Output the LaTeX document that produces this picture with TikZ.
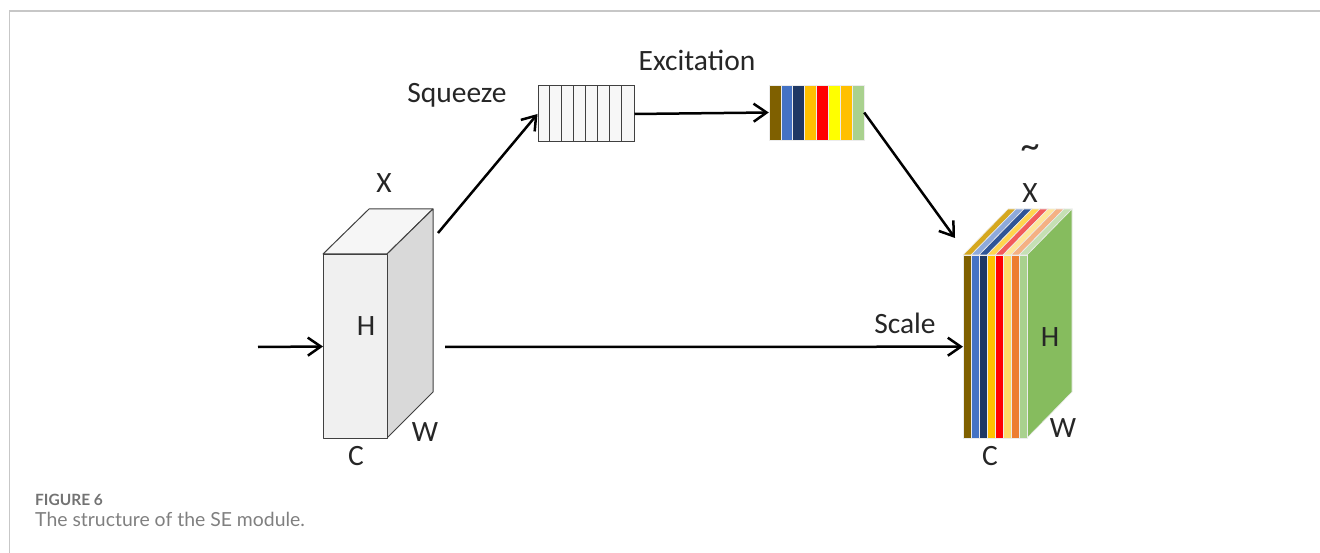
\documentclass[tikz,border=0pt]{standalone}
\usepackage{fontspec}
\setmainfont{Carlito}
\newfontfamily\capfont{Lato}
\usetikzlibrary{arrows.meta,calc}

\definecolor{cBrown}{HTML}{7F6000}
\definecolor{cBlue}{HTML}{4472C4}
\definecolor{cNavy}{HTML}{1F3864}
\definecolor{cOrange}{HTML}{FFC000}
\definecolor{cRed}{HTML}{FF0000}
\definecolor{cYellow}{HTML}{FFFF00}
\definecolor{cLYellow}{HTML}{FFD966}
\definecolor{cDOrange}{HTML}{ED7D31}
\definecolor{cLGreen}{HTML}{A9D18E}
\definecolor{cGreen}{HTML}{86BC5E}
\definecolor{tGold}{HTML}{D6A81F}
\definecolor{tLBlue}{HTML}{8EAADB}
\definecolor{tBlue}{HTML}{2F5597}
\definecolor{tYellow}{HTML}{FFD54F}
\definecolor{tRed}{HTML}{F25B5B}
\definecolor{tLYellow}{HTML}{FFE699}
\definecolor{tPeach}{HTML}{F4B183}
\definecolor{tLGreen}{HTML}{C5E0B4}

\begin{document}
\begin{tikzpicture}[x=1pt,y=-1pt,
  conn/.style={line width=2.5pt, black,
    -{Straight Barb[length=13pt,width=18pt,line width=2.5pt]}},
  lbl/.style={font=\fontsize{29.5}{34}\selectfont, text=black!85, inner sep=0},
  face/.style={draw=black!75, line width=1pt, line join=round},
  stripe/.style={draw=white!85!gray, line width=0.6pt}]

\useasboundingbox (0,0) rectangle (1320,553);
\draw[black!22, line width=1.5pt] (1320,11) -- (9.5,11) -- (9.5,553);

% input tensor X
\filldraw[face, fill=gray!7] (323,254) -- (369,209) -- (433,209) -- (387,254) -- cycle;
\filldraw[face, fill=gray!30] (387,254) -- (433,209) -- (433,392) -- (387,438) -- cycle;
\node[face, fill=gray!12, minimum width=64pt, minimum height=184pt, inner sep=0,
      anchor=north west] (xin) at (323,254) {};
\node[lbl] (lxin) at (384,183) {X};
\node[lbl] (lhin) at (366,326) {H};
\node[lbl] (lwin) at (425,432) {W};
\node[lbl] (lcin) at (356,456) {C};

% squeeze vector
\node[draw=black!75, line width=1pt, fill=gray!6, minimum width=96pt,
      minimum height=56pt, inner sep=0] (sq) at (586,114) {};
\foreach \k in {1,...,7}
  \draw[black!75, line width=1pt] ($(sq.north west)+(12*\k,0)$) -- ($(sq.south west)+(12*\k,0)$);
\node[lbl] (lsq) at (457,95) {Squeeze};

% excitation weights
\foreach \c [count=\k from 0] in {cBrown,cBlue,cNavy,cOrange,cRed,cYellow,cOrange,cLGreen}
  \fill[stripe, fill=\c] (769+11.875*\k,85) rectangle (769+11.875*\k+11.875,140);
\node[minimum width=95pt, minimum height=55pt, inner sep=0] (ex) at (816.5,112.5) {};
\node[lbl] (lex) at (697,60) {Excitation};

% rescaled tensor
\foreach \c [count=\k from 0] in {tGold,tLBlue,tBlue,tYellow,tRed,tLYellow,tPeach,tLGreen}
  \fill[stripe, fill=\c] (963+8*\k,255) -- (1008+8*\k,209) -- (1016+8*\k,209) -- (971+8*\k,255) -- cycle;
\fill[stripe, fill=cGreen] (1027,255) -- (1072,209) -- (1072,392) -- (1027,438) -- cycle;
\foreach \c [count=\k from 0] in {cBrown,cBlue,cNavy,cOrange,cRed,cLYellow,cDOrange,cLGreen}
  \fill[stripe, fill=\c] (963+8*\k,255) rectangle (971+8*\k,438);
\node[minimum width=64pt, minimum height=183pt, inner sep=0, anchor=north west] (xout) at (963,255) {};
\node[lbl, font=\fontsize{38}{40}\selectfont] (ltil) at (1030,152) {\textasciitilde};
\node[lbl] (lxout) at (1030,193) {X};
\node[lbl] (lhout) at (1050,337) {H};
\node[lbl] (lwout) at (1063,428) {W};
\node[lbl] (lcout) at (990,456) {C};
\node[lbl] (lsc) at (905,323) {Scale};

% connectors
\coordinate (inflow) at (258,347);
\coordinate (sqfrom) at (438,233);
\coordinate (scfrom) at (445,347);
\coordinate (exto) at (955,238);
\draw[conn] (inflow) -- (xin.west);
\draw[conn] (sqfrom) -- (sq.west);
\draw[conn] (sq.east) -- (ex.west);
\draw[conn] (ex.east) -- (exto);
\draw[conn] (scfrom) -- (xout.west);

% caption
\node[anchor=west, inner sep=0, text=black!55, font=\capfont\bfseries\fontsize{15.5}{18}\selectfont] (fig) at (35,500) {FIGURE 6};
\node[anchor=west, inner sep=0, text=black!50, font=\capfont\fontsize{19.4}{22}\selectfont] (cap) at (35,519) {The structure of the SE module.};
\end{tikzpicture}
\end{document}
